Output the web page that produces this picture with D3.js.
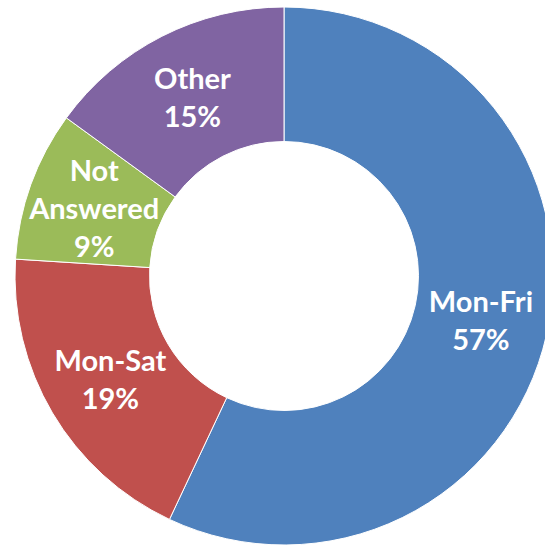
<!DOCTYPE html>
<html>
<head>
<meta charset="utf-8">
<script src="https://cdn.jsdelivr.net/npm/d3@7"></script>
<style>
	html, body { margin: 0; padding: 0; background: #fff; overflow: hidden; }
	svg { display: block; }
</style>
</head>
<body>
<div id="chart"></div>
<script>

///////////////////////////////////////////////////////////////////////

let categories = [ "Mon-Fri", "Mon-Sat", "Not Answered", "Other" ];
let values = [ 57, 19, 9, 15 ];
let label_lines = [ [ "Mon-Fri" ], [ "Mon-Sat" ], [ "Not", "Answered" ], [ "Other" ] ];
let colors = [ "#4f81bd", "#c0504d", "#9bbb59", "#8064a2" ];

///////////////////////////////////////////////////////////////////////

let width = 545, height = 549;
let cx = 284, cy = 276;
let r_out = 269, r_in = 134.5;
let line_h = 38;

let svg = d3.select( "#chart" )
	.append( "svg" )
		.attr( "width", width )
		.attr( "height", height );

let g = svg.append( "g" )
	.attr( "transform", "translate(" + cx + "," + cy + ")" );

let pie = d3.pie()
	.value( d => d.v )
	.sort( null );

let arc = d3.arc()
	.innerRadius( r_in )
	.outerRadius( r_out );

let data = categories.map( ( c, i ) => ( { name: c, v: values[ i ], lines: label_lines[ i ], color: colors[ i ] } ) );
let arcs = pie( data );

g.selectAll( "path" )
	.data( arcs )
	.join( "path" )
		.attr( "d", arc )
		.attr( "fill", d => d.data.color )
		.attr( "stroke", "#fff" )
		.attr( "stroke-width", 1 );

let labels = g.selectAll( "text" )
	.data( arcs )
	.join( "text" )
		.attr( "transform", d => "translate(" + arc.centroid( d ) + ")" )
		.attr( "text-anchor", "middle" )
		.attr( "fill", "#fff" )
		.attr( "font-family", "Lato, 'Open Sans', sans-serif" )
		.attr( "font-weight", "bold" )
		.attr( "font-size", 29 );

labels.each( function( d )	{

	let lines = d.data.lines.concat( [ d.data.v + "%" ] );
	let t = d3.select( this );
	let y0 = -( lines.length - 1 ) * line_h / 2 + 1;
	lines.forEach( ( s, i ) => {
		t.append( "tspan" )
			.attr( "x", 0 )
			.attr( "y", y0 + i * line_h )
			.attr( "dy", "0.36em" )
			.text( s );
	} );
} );

</script>
</body>
</html>
